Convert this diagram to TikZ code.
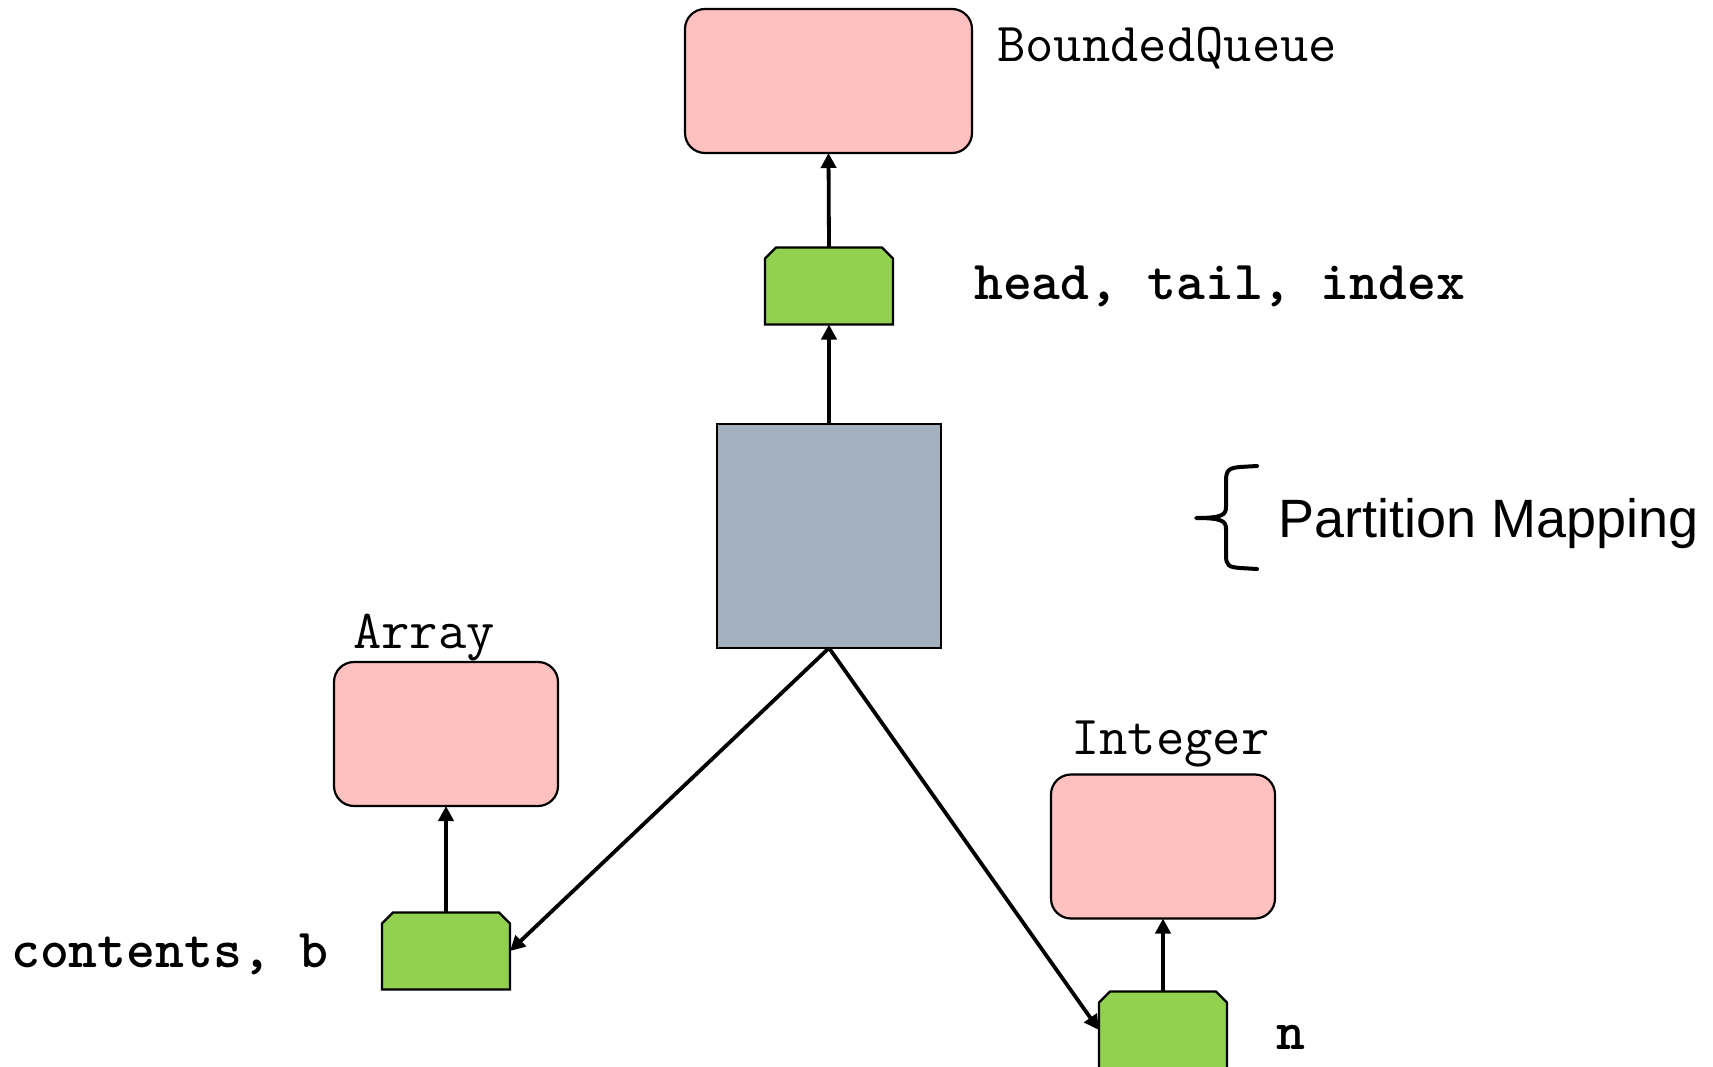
\documentclass[tikz,border=0pt]{standalone}
\usepackage{fontspec}
\newfontfamily\labelsans{Liberation Sans}
\usetikzlibrary{arrows.meta,calc}
\definecolor{pinkfill}{RGB}{255,192,192}
\definecolor{greenfill}{RGB}{146,208,80}
\definecolor{grayfill}{RGB}{163,176,190}
\tikzset{
  classbox/.style={draw=black, line width=2.2pt, fill=pinkfill, rounded corners=20pt,
    minimum width=224pt, minimum height=144pt, inner sep=0pt, outer sep=0pt},
  portbox/.style={minimum width=128pt, minimum height=77pt, inner sep=0pt, outer sep=0pt},
  portshape/.style={draw=black, line width=2.2pt, fill=greenfill, line join=miter},
  mapbox/.style={draw=black, line width=2.2pt, fill=grayfill, minimum width=224pt,
    minimum height=224pt, inner sep=0pt, outer sep=0pt},
  arr/.style={line width=3.8pt, -{Triangle[length=15pt,width=15pt]}},
  monolabel/.style={anchor=base west, inner sep=0pt, font=\fontsize{55}{60}\selectfont\ttfamily},
  boldlabel/.style={anchor=base west, inner sep=0pt, font=\fontsize{55}{60}\selectfont\ttfamily\bfseries},
}
\newcommand\portdraw[1]{%
  \draw[portshape] (#1.south west) -- ($(#1.north west)+(0,11)$) -- ($(#1.north west)+(11,0)$)
    -- ($(#1.north east)+(-11,0)$) -- ($(#1.north east)+(0,11)$) -- (#1.south east) -- cycle;}
\begin{document}
\begin{tikzpicture}[x=1pt,y=-1pt]
\useasboundingbox (0,0) rectangle (1713,1067);
% nodes
\node[classbox, minimum width=287pt] (bq) at (828.5,81) {};
\node[portbox] (g1) at (829,286) {};
\node[mapbox] (map) at (829,536) {};
\node[classbox] (arrbox) at (446,734) {};
\node[portbox] (g2) at (446,951) {};
\node[classbox] (intbox) at (1163,846.5) {};
\node[portbox] (g3) at (1163,1030) {};
\portdraw{g1}
\portdraw{g2}
\portdraw{g3}
% labels
\node[monolabel] (lbq) at (997,62) {BoundedQueue};
\node[boldlabel] (lg1) at (974,300) {head, tail, index};
\node[monolabel] (larr) at (353,648) {Array};
\node[boldlabel] (lg2) at (11,967) {contents, b};
\node[monolabel] (lint) at (1071,754) {Integer};
\node[boldlabel] (lg3) at (1276,1049) {n};
\node[anchor=base west, inner sep=0pt, font=\fontsize{54}{60}\selectfont\labelsans] (lpm) at (1278,537) {Partition Mapping};
% brace
\draw[line width=4pt, line cap=round, line join=round]
  (1257,466) -- (1240,467) .. controls (1229,468) and (1226,470) .. (1226,481)
  -- (1226,507) .. controls (1226,515) and (1222,518) .. (1196,518)
  .. controls (1222,518) and (1226,521) .. (1226,529)
  -- (1226,555) .. controls (1226,566) and (1229,567) .. (1240,568) -- (1257,569);
% connectors
\draw[arr] (g1.north) -- (bq.south);
\draw[arr] (map.north) -- (g1.south);
\draw[arr] (map.south) -- (g2.east);
\draw[arr] (map.south) -- (g3.west);
\draw[arr] (g2.north) -- (arrbox.south);
\draw[arr] (g3.north) -- (intbox.south);
\end{tikzpicture}
\end{document}
